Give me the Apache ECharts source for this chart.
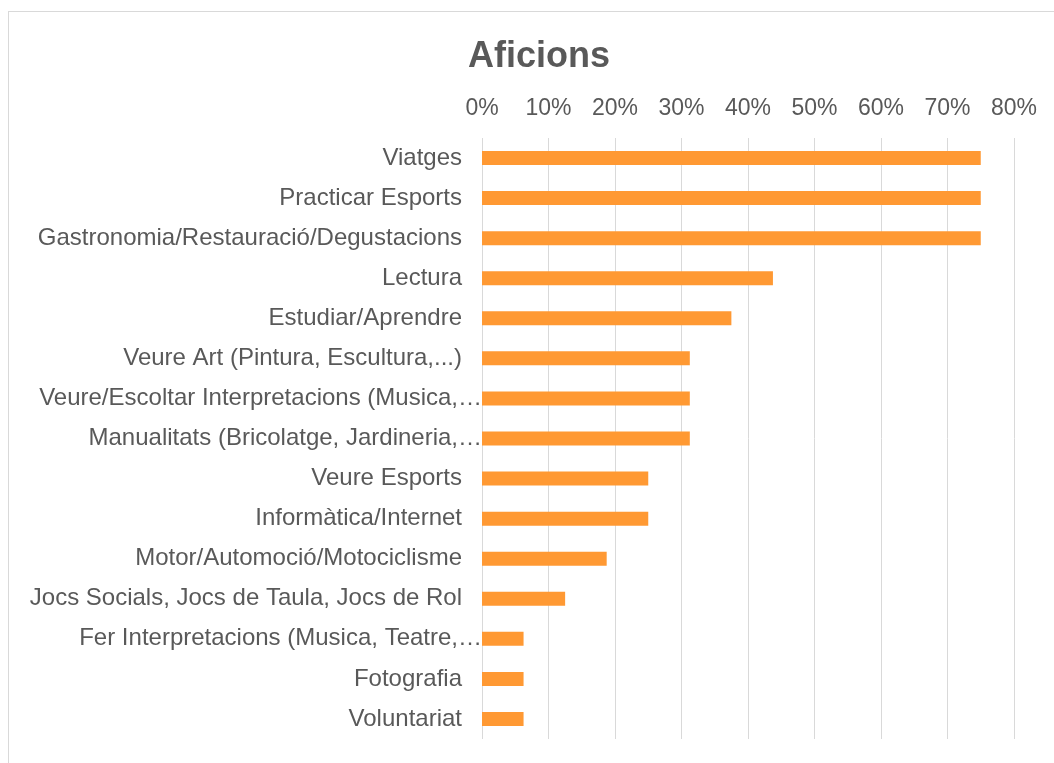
<!DOCTYPE html>
<html>
<head>
<meta charset="utf-8">
<title>Aficions</title>
<script src="https://cdn.jsdelivr.net/npm/echarts@6/dist/echarts.min.js"></script>
<style>
  html, body { margin: 0; padding: 0; background: #fff; }
  #main { width: 1054px; height: 763px; position: relative; }
  /* marc del gràfic, com a l'original surt tallat per la dreta i per baix */
  #frame {
    position: absolute; left: 8px; top: 11px; width: 1100px; height: 800px;
    border: 1px solid #d9d9d9; box-sizing: border-box; pointer-events: none;
  }
</style>
</head>
<body>
<div id="main"></div>
<div id="frame"></div>
<script>
// categories (de dalt a baix)
const categories = [
  'Viatges',
  'Practicar Esports',
  'Gastronomia/Restauració/Degustacions',
  'Lectura',
  'Estudiar/Aprendre',
  'Veure Art (Pintura, Escultura,...)',
  'Veure/Escoltar Interpretacions (Musica,…',
  'Manualitats (Bricolatge, Jardineria,…',
  'Veure Esports',
  'Informàtica/Internet',
  'Motor/Automoció/Motociclisme',
  'Jocs Socials, Jocs de Taula, Jocs de Rol',
  'Fer Interpretacions (Musica, Teatre,…',
  'Fotografia',
  'Voluntariat'
];
// percentatges
const values = [75, 75, 75, 43.75, 37.5, 31.25, 31.25, 31.25, 25, 25, 18.75, 12.5, 6.25, 6.25, 6.25];
// eix x
const axisMin = 0;
const axisMax = 80;
const axisStep = 10;

const textColor = '#595959';
const fontFamily = "'Liberation Sans', Arial, sans-serif";

var myChart = echarts.init(document.getElementById('main'));

let option = {
  animation: false,
  title: {
    text: 'Aficions',
    left: 534,
    top: 34,
    textAlign: 'center',
    textStyle: {
      color: textColor,
      fontSize: 36,
      fontWeight: 'bold',
      fontFamily: fontFamily
    }
  },
  grid: {
    left: 482,
    right: 40,
    top: 138,
    bottom: 24,
    containLabel: false
  },
  xAxis: {
    type: 'value',
    position: 'top',
    min: axisMin,
    max: axisMax,
    interval: axisStep,
    axisLine: { show: false },
    axisTick: { show: false },
    splitLine: { lineStyle: { color: '#d9d9d9', width: 1 } },
    axisLabel: {
      formatter: '{value}%',
      color: textColor,
      fontSize: 23,
      fontFamily: fontFamily,
      margin: 18
    }
  },
  yAxis: {
    type: 'category',
    inverse: true,
    data: categories,
    axisLine: { show: false },
    axisTick: { show: false },
    axisLabel: {
      margin: 0,
      interval: 0,
      // les etiquetes retallades arriben fins a l'eix
      formatter: function (value) {
        return value.indexOf('…') >= 0 ? '{t|' + value + '}' : '{n|' + value + '}';
      },
      rich: {
        n: { color: textColor, fontSize: 24, fontFamily: fontFamily, padding: [0, 20, 0, 0] },
        t: { color: textColor, fontSize: 24, fontFamily: fontFamily, padding: [0, 0, 0, 0] }
      }
    }
  },
  series: [
    {
      type: 'bar',
      data: values,
      barWidth: 14,
      itemStyle: { color: '#ff9933' }
    }
  ]
};

myChart.setOption(option);
</script>
</body>
</html>
